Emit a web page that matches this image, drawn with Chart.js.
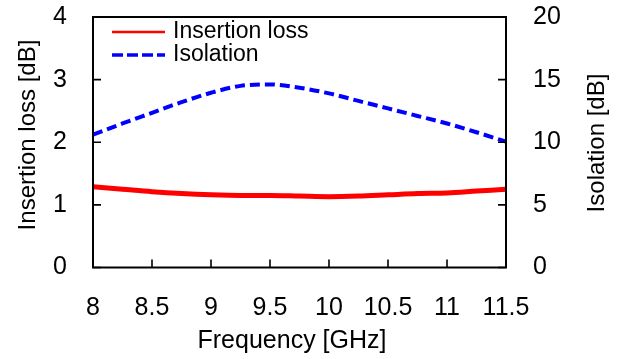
<!DOCTYPE html>
<html>
<head>
<meta charset="utf-8">
<script src="https://cdn.jsdelivr.net/npm/chart.js@4.4.0/dist/chart.umd.min.js"></script>
<style>
  html, body { margin: 0; padding: 0; background: #fff; }
  #wrap { width: 618px; height: 359px; }
</style>
</head>
<body>
<div id="wrap"><canvas id="myChart" width="618" height="359"></canvas></div>
<script>
// frequency points (GHz)
const freqs = [8, 8.25, 8.5, 8.75, 9, 9.25, 9.5, 9.75, 10, 10.25, 10.5, 10.75, 11, 11.25, 11.5];
// insertion loss [dB], left axis
const insertionLoss = [1.29, 1.25, 1.21, 1.18, 1.16, 1.15, 1.15, 1.14, 1.13, 1.14, 1.16, 1.18, 1.19, 1.22, 1.25];
// isolation [dB], right axis
const isolation = [10.6, 11.5, 12.35, 13.2, 13.95, 14.5, 14.62, 14.35, 13.9, 13.3, 12.7, 12.1, 11.5, 10.8, 10.05];

const seriesLabels = ['Insertion loss', 'Isolation'];
const xTitle = 'Frequency [GHz]';
const leftTitle = 'Insertion loss [dB]';
const rightTitle = 'Isolation [dB]';

const FONT = '"Liberation Sans", Arial, sans-serif';

function toPoints(ys) {
    return freqs.map((f, i) => ({ x: f, y: ys[i] }));
}

// frame + inward ticks
const frameTicks = {
    id: 'frameTicks',
    afterDatasetsDraw(chart) {
        const { ctx, chartArea: a, scales } = chart;
        ctx.save();
        ctx.strokeStyle = '#000';
        ctx.lineWidth = 1.6;
        const len = 8;
        ctx.beginPath();
        scales.x.ticks.forEach(t => {
            const px = scales.x.getPixelForValue(t.value);
            ctx.moveTo(px, a.bottom);
            ctx.lineTo(px, a.bottom - len);
        });
        scales.y.ticks.forEach(t => {
            const py = scales.y.getPixelForValue(t.value);
            ctx.moveTo(a.left, py);
            ctx.lineTo(a.left + len, py);
        });
        scales.y2.ticks.forEach(t => {
            const py = scales.y2.getPixelForValue(t.value);
            ctx.moveTo(a.right, py);
            ctx.lineTo(a.right - len, py);
        });
        ctx.stroke();
        ctx.lineWidth = 2;
        ctx.strokeRect(a.left, a.top, a.right - a.left, a.bottom - a.top);
        ctx.restore();
    }
};

// axis titles (right one reads bottom to top like the left one)
const axisTitles = {
    id: 'axisTitles',
    afterDraw(chart) {
        const { ctx } = chart;
        ctx.save();
        ctx.font = '25px ' + FONT;
        ctx.fillStyle = '#000';
        ctx.textAlign = 'center';
        ctx.textBaseline = 'middle';
        ctx.fillText(xTitle, 292, 341);
        ctx.font = '24px ' + FONT;
        ctx.translate(28, 135);
        ctx.rotate(-Math.PI / 2);
        ctx.fillText(leftTitle, 0, 0);
        ctx.restore();
        ctx.save();
        ctx.font = '24px ' + FONT;
        ctx.fillStyle = '#000';
        ctx.textAlign = 'center';
        ctx.textBaseline = 'middle';
        ctx.translate(597, 143);
        ctx.rotate(-Math.PI / 2);
        ctx.fillText(rightTitle, 0, 0);
        ctx.restore();
    }
};

// legend drawn inside plot area
const innerLegend = {
    id: 'innerLegend',
    afterDraw(chart) {
        const { ctx } = chart;
        ctx.save();
        ctx.font = '23px ' + FONT;
        ctx.textBaseline = 'middle';
        ctx.fillStyle = '#000';
        chart.data.datasets.forEach((ds, i) => {
            const y = 32 + i * 23;
            ctx.beginPath();
            ctx.strokeStyle = ds.borderColor;
            ctx.lineWidth = i === 0 ? 2.5 : 3.5;
            ctx.setLineDash(i === 0 ? [] : [11, 4]);
            ctx.moveTo(112, y);
            ctx.lineTo(165, y);
            ctx.stroke();
            ctx.setLineDash([]);
            ctx.fillText(ds.label, 173, y);
        });
        ctx.restore();
    }
};

function noPad(s) {
    s.paddingTop = 0;
    s.paddingBottom = 0;
}

var ctx = document.getElementById('myChart').getContext('2d');
var myChart = new Chart(ctx, {
    type: 'line',
    data: {
        datasets: [{
            label: seriesLabels[0],
            data: toPoints(insertionLoss),
            yAxisID: 'y',
            borderColor: '#ff0000',
            borderWidth: 5,
            pointRadius: 0,
            cubicInterpolationMode: 'monotone',
            fill: false
        }, {
            label: seriesLabels[1],
            data: toPoints(isolation),
            yAxisID: 'y2',
            borderColor: '#0000ff',
            borderWidth: 4,
            borderDash: [10, 5],
            pointRadius: 0,
            cubicInterpolationMode: 'monotone',
            fill: false
        }]
    },
    options: {
        responsive: false,
        animation: false,
        layout: { padding: { top: 17, left: 0, right: 0, bottom: 0 } },
        plugins: {
            legend: { display: false },
            tooltip: { enabled: false }
        },
        scales: {
            x: {
                type: 'linear',
                min: 8,
                max: 11.5,
                afterFit(s) { s.height = 91.5; s.paddingLeft = 0; s.paddingRight = 0; },
                grid: { display: false, drawTicks: false },
                border: { display: false },
                ticks: {
                    stepSize: 0.5,
                    padding: 26,
                    color: '#000',
                    maxRotation: 0,
                    callback: v => String(v),
                    font: { family: FONT, size: 25 }
                }
            },
            y: {
                position: 'left',
                min: 0,
                max: 4,
                afterFit(s) { s.width = 93; noPad(s); },
                grid: { display: false, drawTicks: false },
                border: { display: false },
                ticks: {
                    stepSize: 1,
                    padding: 26,
                    color: '#000',
                    font: { family: FONT, size: 25 }
                }
            },
            y2: {
                position: 'right',
                min: 0,
                max: 20,
                afterFit(s) { s.width = 112; noPad(s); },
                grid: { display: false, drawTicks: false },
                border: { display: false },
                ticks: {
                    stepSize: 5,
                    padding: 27,
                    color: '#000',
                    font: { family: FONT, size: 25 }
                }
            }
        }
    },
    plugins: [frameTicks, axisTitles, innerLegend]
});
</script>
</body>
</html>
